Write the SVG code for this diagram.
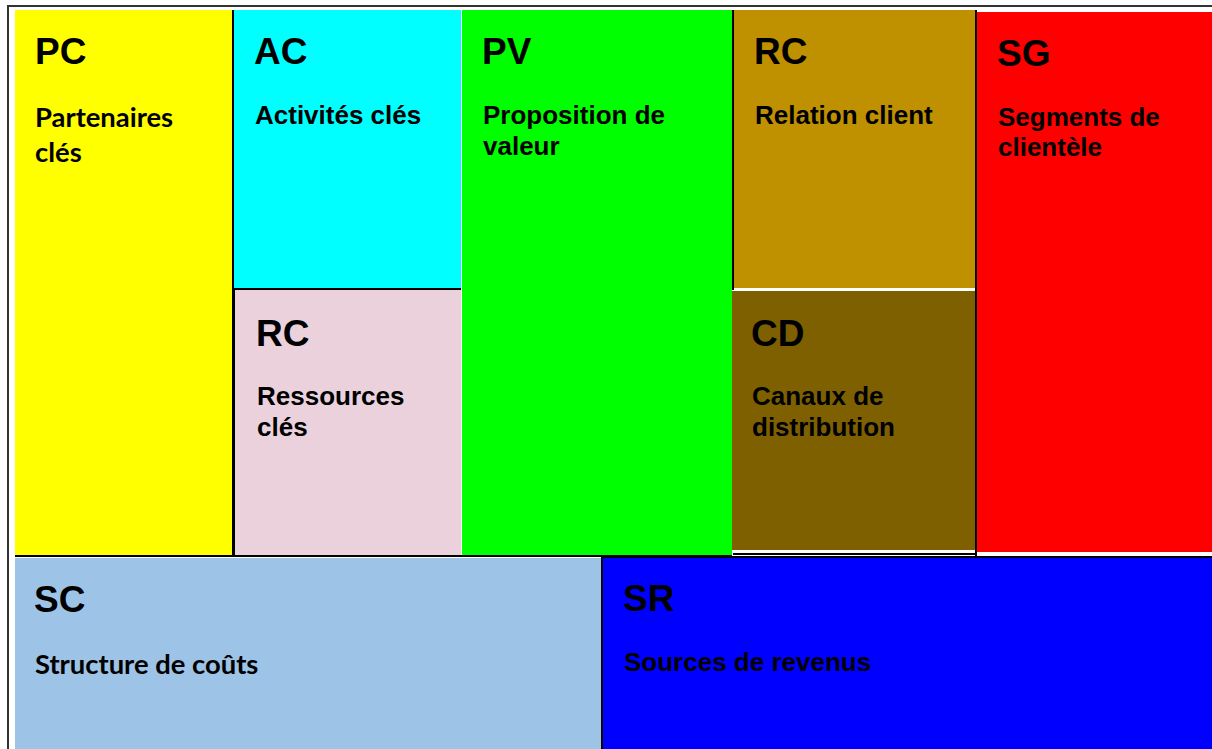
<svg xmlns="http://www.w3.org/2000/svg" width="1212" height="749" viewBox="0 0 1212 749">
<style>
.t{font-family:"Liberation Sans",Arial,sans-serif;font-weight:bold;font-size:37px;fill:#000}
.s{font-family:"Liberation Sans",Arial,sans-serif;font-weight:bold;font-size:26px;fill:#000}
.c{font-family:Lato,"Liberation Sans",sans-serif;font-weight:bold;font-size:27.4px;fill:#000}
.ln{stroke:#000;stroke-width:2;fill:none}
.fr{stroke:#333;stroke-width:2;fill:none}
</style>
<rect width="1212" height="749" fill="#fff"/>
<g id="PC"><rect x="15" y="10" width="218" height="545" fill="#FFFF00"/><text class="t" x="35" y="64">PC</text><text class="c" x="35" y="127">Partenaires</text><text class="c" x="35" y="162">clés</text></g>
<g id="AC"><rect x="234" y="10" width="227" height="278" fill="#00FFFF"/><text class="t" x="254" y="64">AC</text><text class="s" x="255" y="124">Activités clés</text></g>
<g id="RC2"><rect x="235" y="290" width="226" height="265" fill="#EAD1DC"/><text class="t" x="256" y="346">RC</text><text class="s" x="257" y="405">Ressources</text><text class="s" x="257" y="436">clés</text></g>
<g id="PV"><rect x="462" y="10" width="270" height="545" fill="#00FF00"/><text class="t" x="482" y="64">PV</text><text class="s" x="483" y="124">Proposition de</text><text class="s" x="483" y="155">valeur</text></g>
<g id="RC"><rect x="734" y="10" width="242" height="278" fill="#BF9000"/><text class="t" x="754" y="64">RC</text><text class="s" x="755" y="124">Relation client</text></g>
<g id="CD"><rect x="732" y="291" width="243" height="259" fill="#7F6000"/><text class="t" x="751" y="346">CD</text><text class="s" x="752" y="405">Canaux de</text><text class="s" x="752" y="436">distribution</text></g>
<g id="SG"><rect x="977" y="12" width="235" height="540" fill="#FF0000"/><text class="t" x="997" y="66">SG</text><text class="s" x="998" y="126">Segments de</text><text class="s" x="998" y="156">clientèle</text></g>
<g id="SC"><rect x="15" y="558" width="587" height="191" fill="#9DC3E6"/><text class="t" x="34" y="612">SC</text><text class="c" x="35" y="674">Structure de coûts</text></g>
<g id="SR"><rect x="603" y="557" width="609" height="192" fill="#0000FF"/><text class="t" x="623" y="611">SR</text><text class="s" x="624" y="671">Sources de revenus</text></g>
<g id="connectors">
<path class="fr" d="M7 6H1212M8 6V749"/>
<path class="ln" d="M233 10V556M234 289H461M234 289V556M733 10V290M976 10V556M15 556H732M733 554H976M602 557V749M603 557H1212"/>
</g>
</svg>
